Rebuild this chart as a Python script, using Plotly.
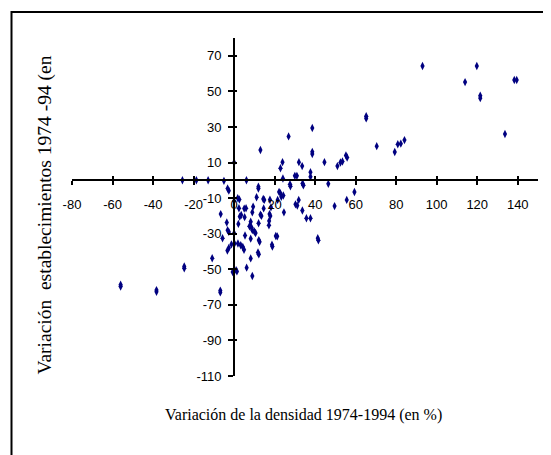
import plotly.graph_objects as go

# Data: variación de la densidad (x) vs variación establecimientos (y), en %
dens_x = [93, 119.8, 114, 138.3, 139.5, 121.5, 121.5, 133.7, 65.2, 65.2,
          70.4, 79.3, 80.8, 82.3, 84.1, 55.2, 55.8, 53.5, 52.5, 51,
          44.6, 38.6, 38.6, 38.6, 26.9, 13, 32, 33.6, 23.9, 22.9,
          37.7, 37.7, 30, 31, 24.1, 27.6, 27.8, 33.8, 34.2, 46.5,
          59.4, 55.6, 49.6, 31.9, 30.3, 31.2, 33.7, 35.7, 37.7, 41.3,
          41.6, 24.6, 22.2, 22.8, 23.3, 21.5, 24.3, 20.6, 21.3, 18.7,
          18.9, 17.7, 18.2, 17.5, 17.9, 17.3, 17.2, 14.4, 14.9, 14.6,
          13, 13.5, 12, 12, 11.1, 12.2, 12.6, 11.8, 12.2, 12.1,
          9.4, 9, 8.2, 7.6, 8.6, 9, 10, 10.6, 8.2, 8.2,
          9, 6.2, 5.9, 5, 5.2, 5.4, 6.1, 3.5, 2.8, 2.4,
          2.1, 1.8, 2.6, 0, 0, 0, -3.3, -2.6, -1.3, 0.2,
          1.9, 3.3, 4.3, 4.9, 1, 1.4, -0.7, -3.2, -2.6, -3.6,
          -6.6, -3.2, -2.6, -5, -5.7, -10.8, -6.8, -6.8, -24.6, -24.6,
          -38.3, -38.3, -56, -56, -25.5, -18.6, -12.8]
estab_y = [64.3, 64.3, 55.2, 56.4, 56.4, 47.5, 46.2, 26, 36, 34.8,
           19.2, 15.9, 20.3, 20.6, 22.6, 14, 12.8, 10.6, 10, 8,
           10.2, 29.4, 16, 14.8, 24.7, 17, 10.2, 8, 10.2, 6.8,
           4.6, 2.0, 2.5, 2.5, 1.0, -2.2, -3.3, -1.8, -2.8, -2,
           -6.6, -11, -14.5, -11, -13.5, -14.2, -17, -21.3, -21.3, -32.5,
           -33.7, -18, -6.5, -7.2, -9.2, -11, -8.5, -31.3, -31.5, -36.2,
           -37.2, -10.9, -15.2, -19, -20, -22.8, -25.3, -10.5, -11, -15.8,
           -19.3, -20, -3.6, -4.6, -9.5, -33.6, -34.6, -40.6, -41.6, -24.1,
           -14.8, -18, -23.3, -25.8, -26.5, -28, -28.8, -29.6, -32.8, -43.9,
           -53.8, -49.1, -15.7, -15.9, -20.7, -31, 0, -19.5, -20.4, -15.7,
           -24.5, -10, -10.8, 10, -11.6, -29.7, -39.5, -38, -36, -35.5,
           -35.5, -36.5, -37.5, -39, -50.5, -51.2, -51.5, -28, -29, -23.7,
           -19, -4.6, -5.8, -0.3, -32.6, -43.8, -62, -63, -48.4, -49.4,
           -61.7, -62.7, -58.7, -59.7, 0, 0, 0]

x_tickvals = [-80, -60, -40, -20, 0, 20, 40, 60, 80, 100, 120, 140]
x_ticktext = ["-80", "-60", "-40", "-20", "0", "20", "40", "60", "80",
              "100", "120", "140"]
y_tickvals = [-110, -90, -70, -50, -30, -10, 10, 30, 50, 70]
y_ticktext = ["-110", "-90", "-70", "-50", "-30", "-10", "10", "30", "50", "70"]

x_range = [-80, 150]
y_range = [-110, 80]
x_title = "Variación de la densidad 1974-1994 (en %)"
y_title = "Variación  establecimientos 1974 -94 (en "

W, H = 551, 455
OFF = 8  # page body margin
L, R, T, B = 64, 21, 30, 87
PW, PH = W - L - R, H - T - B

def fx(px):
    return (px - OFF - L) / PW

def fy(py):
    return (H - B - (py - OFF)) / PH

xpos = (0 - y_range[0]) / (y_range[1] - y_range[0])
ypos = (0 - x_range[0]) / (x_range[1] - x_range[0])

fig = go.Figure()
fig.add_trace(go.Scatter(
    x=dens_x, y=estab_y, mode="markers",
    marker=dict(symbol="diamond-tall", size=6, color="#000080",
                line=dict(width=0)),
    showlegend=False, hoverinfo="x+y"))
# helper trace to show second (inside-tick) axes
fig.add_trace(go.Scatter(x=[0], y=[0], mode="markers", xaxis="x2", yaxis="y2",
                         marker=dict(opacity=0), showlegend=False,
                         hoverinfo="skip"))

tickfont = dict(family="Liberation Sans, Arial", size=13, color="black")

fig.update_layout(
    width=W, height=H, autosize=False,
    margin=dict(l=L, r=R, t=T, b=B),
    paper_bgcolor="white", plot_bgcolor="white",
    xaxis=dict(range=x_range, tickvals=x_tickvals, ticktext=x_ticktext,
               anchor="free",
               position=xpos, showline=True, linecolor="black", linewidth=2,
               ticks="outside", ticklen=4, tickwidth=2, tickcolor="black",
               tickfont=tickfont, ticklabelstandoff=8,
               showgrid=False, zeroline=False),
    yaxis=dict(range=y_range, tickvals=y_tickvals, ticktext=y_ticktext,
               anchor="free",
               position=ypos, showline=True, linecolor="black", linewidth=2,
               ticks="outside", ticklen=5, tickwidth=2, tickcolor="black",
               tickfont=tickfont, ticklabelstandoff=4,
               showgrid=False, zeroline=False),
    xaxis2=dict(range=x_range, tickvals=x_tickvals, overlaying="x",
                anchor="free", position=xpos, showline=False,
                ticks="inside", ticklen=4, tickwidth=2, tickcolor="black",
                showticklabels=False, showgrid=False, zeroline=False),
    yaxis2=dict(range=y_range, tickvals=y_tickvals, overlaying="y",
                anchor="free", position=ypos, showline=False,
                ticks="inside", ticklen=2, tickwidth=2, tickcolor="black",
                showticklabels=False, showgrid=False, zeroline=False),
    shapes=[dict(type="rect", xref="paper", yref="paper",
                 x0=fx(11.5), x1=fx(575), y0=fy(480), y1=fy(12),
                 line=dict(color="black", width=2), fillcolor="rgba(0,0,0,0)")],
    annotations=[
        dict(text=x_title, xref="paper", yref="paper", x=fx(303), y=fy(415),
             xanchor="center", yanchor="middle", showarrow=False,
             font=dict(family="Liberation Serif, Times New Roman", size=16,
                       color="black")),
        dict(text=y_title, xref="paper", yref="paper", x=fx(44.5), y=fy(377),
             xanchor="center", yanchor="bottom", showarrow=False,
             textangle=-90,
             font=dict(family="Liberation Serif, Times New Roman", size=19.5,
                       color="black")),
    ],
)

fig.write_html("out.html")
